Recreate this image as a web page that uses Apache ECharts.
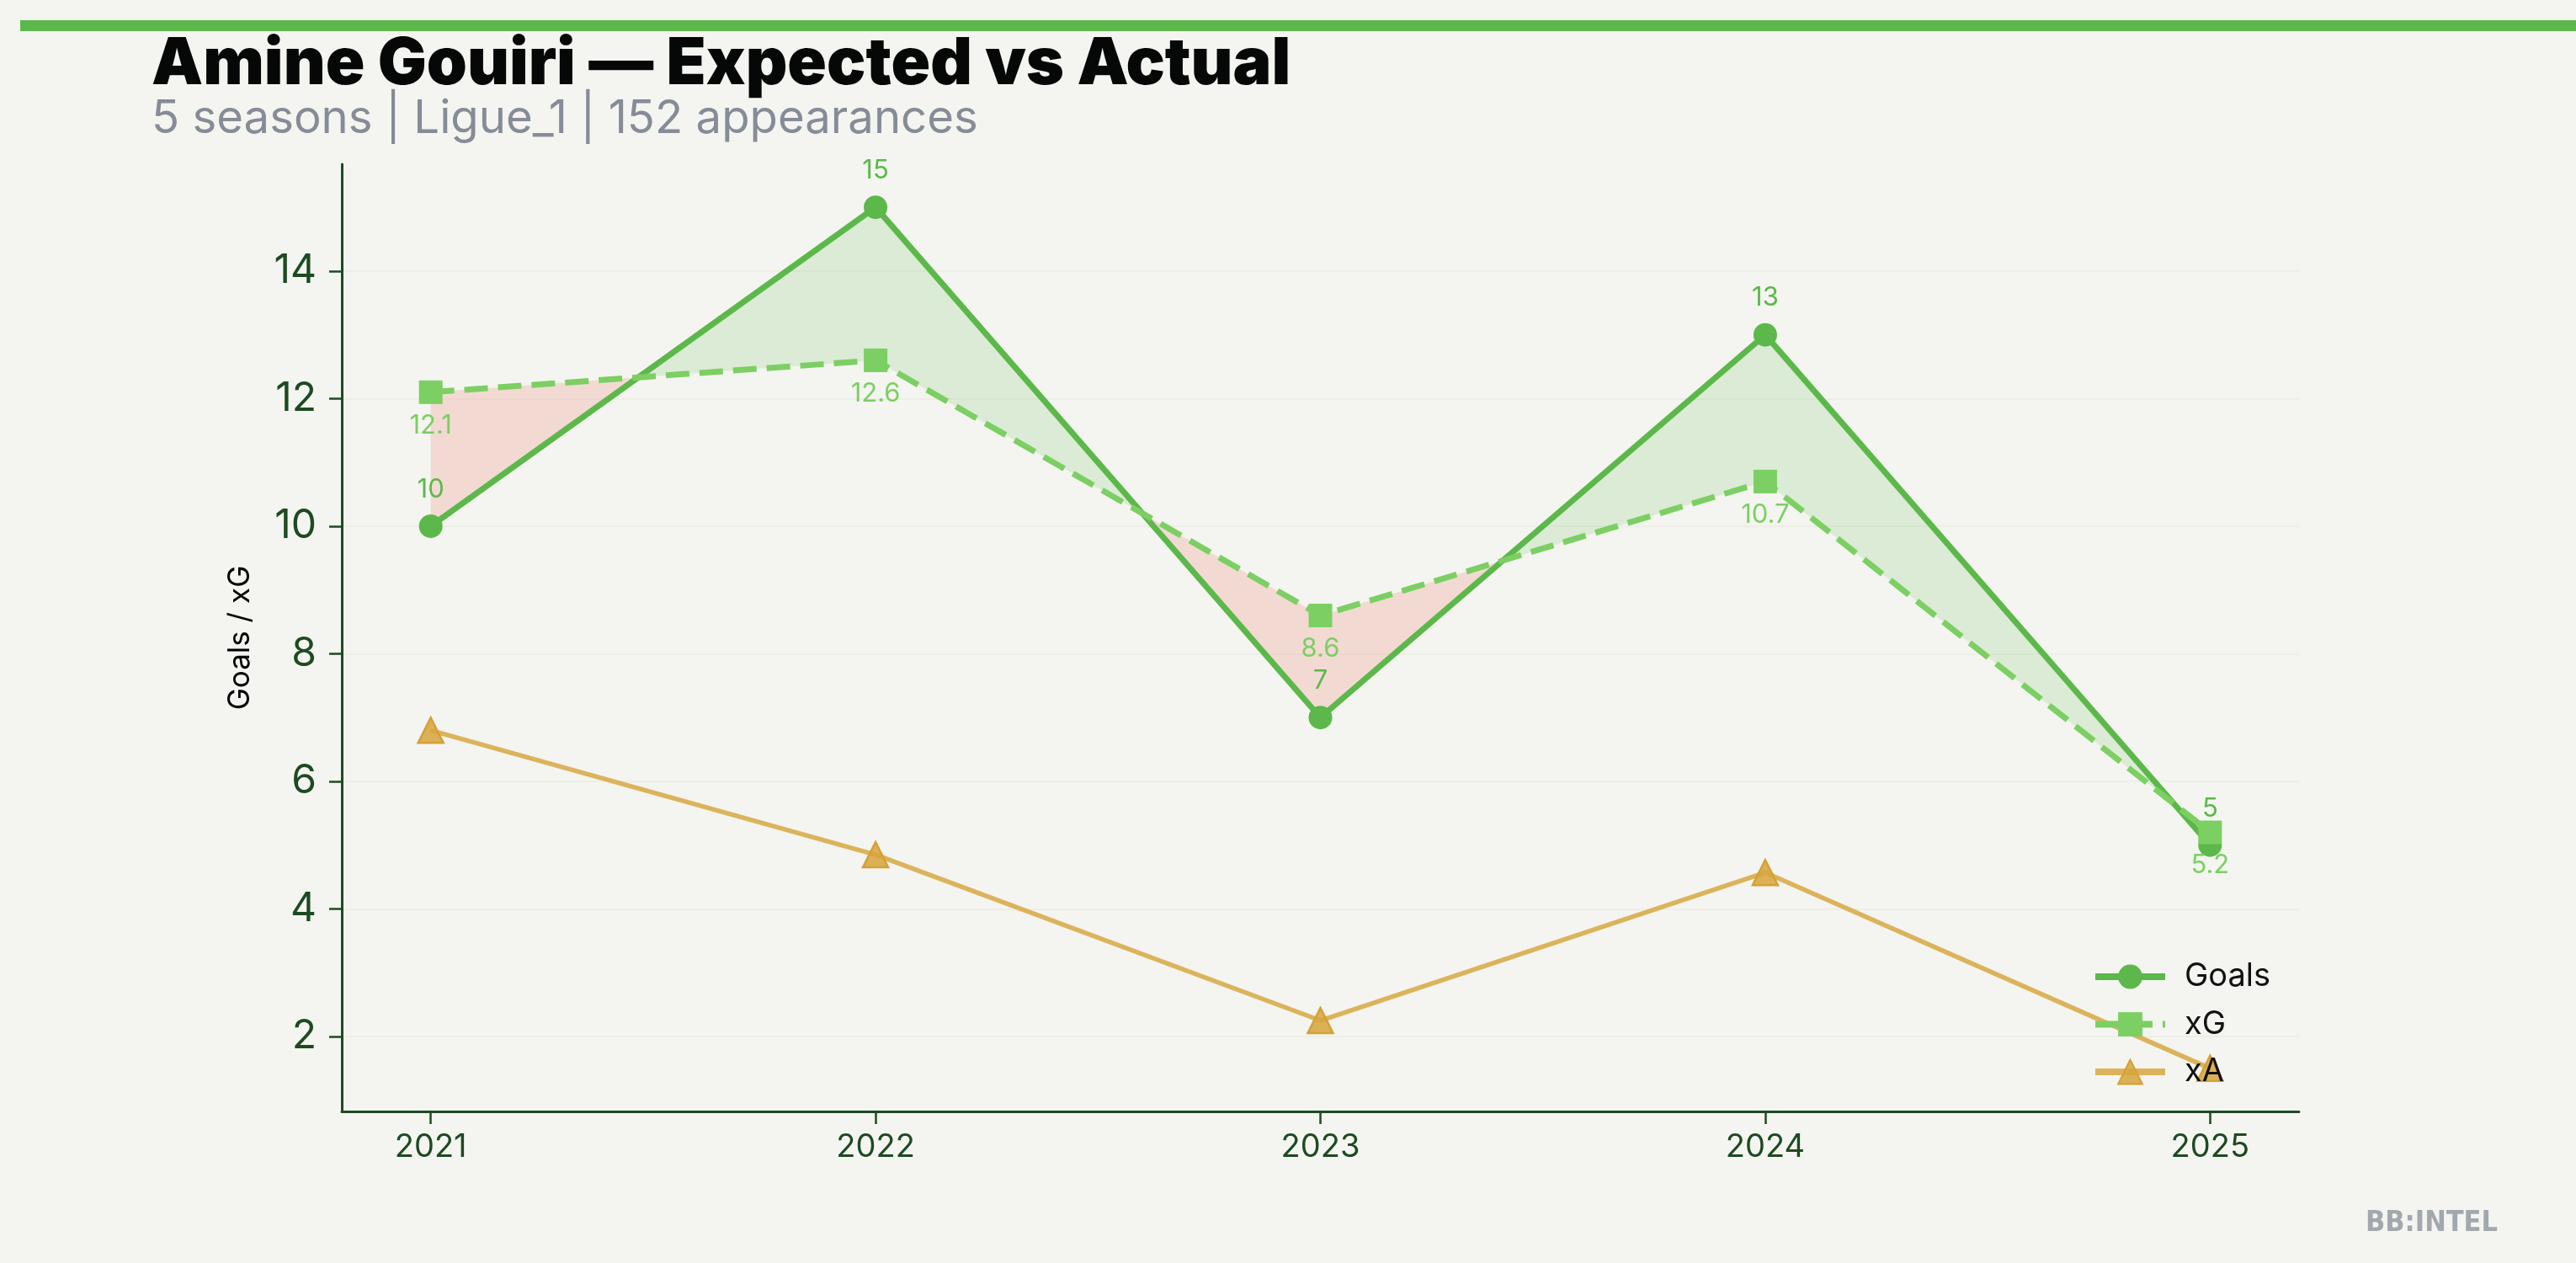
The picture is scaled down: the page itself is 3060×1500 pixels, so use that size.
<!DOCTYPE html>
<html>
<head>
<meta charset="utf-8">
<script src="https://cdn.jsdelivr.net/npm/echarts@6/dist/echarts.min.js"></script>
<style>
  html, body { margin: 0; padding: 0; background: #f4f5f0; }
  #chart { width: 3060px; height: 1500px; }
</style>
</head>
<body>
<div id="chart"></div>
<script>
const seasons = [2021, 2022, 2023, 2024, 2025];
const goals = [10, 15, 7, 13, 5];
const xG = [12.1, 12.6, 8.6, 10.7, 5.2];
const xA = [6.8, 4.85, 2.25, 4.57, 1.5];
const yTicks = [2, 4, 6, 8, 10, 12, 14];
const titleText = 'Amine Gouiri \u2014 Expected vs Actual';
const subtitleText = '5 seasons | Ligue_1 | 152 appearances';
const yAxisName = 'Goals / xG';
const watermark = 'BB:INTEL';

const C_GOALS = '#5cb84a';
const C_XG = '#7ccf63';
const C_XA = '#dcb35c';
const AXIS = '#1d4a22';
const BG = '#f4f5f0';

const chart = echarts.init(document.getElementById('chart'), null, { renderer: 'canvas' });

// Build contiguous regions between Goals and xG (split where the lines cross)
function buildRegions() {
  const nodes = [];
  for (let i = 0; i < seasons.length; i++) {
    nodes.push({ x: seasons[i], g: goals[i], e: xG[i], cross: false });
    if (i < seasons.length - 1) {
      const d0 = goals[i] - xG[i], d1 = goals[i + 1] - xG[i + 1];
      if (d0 * d1 < 0) {
        const t = d0 / (d0 - d1);
        const xc = seasons[i] + t * (seasons[i + 1] - seasons[i]);
        const yc = goals[i] + t * (goals[i + 1] - goals[i]);
        nodes.push({ x: xc, g: yc, e: yc, cross: true });
      }
    }
  }
  const regions = [];
  let cur = [nodes[0]];
  for (let k = 1; k < nodes.length; k++) {
    cur.push(nodes[k]);
    if (nodes[k].cross || k === nodes.length - 1) {
      regions.push(cur);
      cur = [nodes[k]];
    }
  }
  return regions;
}
const regions = buildRegions();

function fillItem(params, api) {
  const green = 'rgba(92,184,74,0.16)';
  const red = 'rgba(232,90,70,0.17)';
  const children = regions.map(reg => {
    let s = 0;
    reg.forEach(n => { s += n.g - n.e; });
    const pts = reg.map(n => api.coord([n.x, n.g]))
      .concat(reg.slice().reverse().map(n => api.coord([n.x, n.e])));
    return { type: 'polygon', shape: { points: pts }, style: { fill: s >= 0 ? green : red } };
  });
  return { type: 'group', children };
}

const option = {
  backgroundColor: BG,
  animation: false,
  grid: { left: 406, right: 329, top: 195, bottom: 180, containLabel: false },
  graphic: [
    { type: 'rect', left: 24, top: 24, shape: { width: 3036, height: 13 }, style: { fill: C_GOALS } },
    { type: 'text', left: 180, top: 38,
      style: { text: titleText, font: '900 77px Inter', fill: '#060807' } },
    { type: 'text', left: 180, top: 114,
      style: { text: subtitleText, font: '400 54.5px Inter', fill: '#868c97' } },
    { type: 'text', right: 93, top: 1436,
      style: { text: watermark, font: 'bold 34px "Liberation Sans Narrow", "DejaVu Sans Condensed", sans-serif', fill: '#a3a7ae' } }
  ],
  legend: {
    z: 20,
    orient: 'vertical',
    left: 2480,
    top: 1136,
    itemWidth: 83,
    itemHeight: 36,
    itemGap: 18.5,
    lineStyle: { width: 8 },
    textStyle: { fontFamily: 'Inter', fontSize: 38, color: '#111', padding: [0, 0, 0, 18] },
    data: ['Goals', 'xG', 'xA']
  },
  xAxis: {
    type: 'value',
    min: 2020.8,
    max: 2025.2,
    axisLine: { show: true, lineStyle: { color: AXIS, width: 3 } },
    axisTick: { show: true, customValues: seasons, length: 15, lineStyle: { color: AXIS, width: 2.5 } },
    axisLabel: { customValues: seasons, fontFamily: 'Inter', fontSize: 38, color: AXIS, margin: 24,
      formatter: v => String(v) },
    splitLine: { show: false }
  },
  yAxis: {
    type: 'value',
    min: 0.825,
    max: 15.675,
    name: yAxisName,
    nameLocation: 'middle',
    nameRotate: 90,
    nameGap: 103,
    nameTextStyle: { fontFamily: 'Inter', fontSize: 35, color: '#000' },
    axisLine: { show: true, lineStyle: { color: AXIS, width: 3 } },
    axisTick: { show: true, customValues: yTicks, length: 15, lineStyle: { color: AXIS, width: 2.5 } },
    axisLabel: { customValues: yTicks, fontFamily: 'Inter', fontSize: 48, color: AXIS, margin: 30 },
    splitLine: { show: true, lineStyle: { color: '#ebece5', width: 1.5 } }
  },
  series: [
    {
      type: 'custom',
      name: 'fill',
      silent: true,
      z: 1,
      renderItem: fillItem,
      data: [[seasons[0], goals[0]]],
      encode: { x: 0, y: 1 }
    },
    {
      name: 'Goals',
      type: 'line',
      z: 3,
      data: seasons.map((s, i) => [s, goals[i]]),
      symbol: 'circle',
      symbolSize: 28,
      lineStyle: { color: C_GOALS, width: 7 },
      itemStyle: { color: C_GOALS },
      label: { show: true, position: 'top', distance: 14, fontFamily: 'Inter', fontSize: 31, color: C_GOALS },
      emphasis: { disabled: true }
    },
    {
      name: 'xG',
      type: 'line',
      z: 4,
      data: seasons.map((s, i) => [s, xG[i]]),
      symbol: 'rect',
      symbolSize: 28,
      lineStyle: { color: C_XG, width: 7, type: [28, 12] },
      itemStyle: { color: C_XG },
      label: { show: true, position: 'bottom', distance: 10, fontFamily: 'Inter', fontSize: 31, color: C_XG },
      emphasis: { disabled: true }
    },
    {
      name: 'xA',
      type: 'line',
      z: 5,
      data: seasons.map((s, i) => [s, xA[i]]),
      symbol: 'triangle',
      symbolSize: 30,
      lineStyle: { color: C_XA, width: 5.5 },
      itemStyle: { color: 'rgba(214,165,60,0.85)', borderColor: '#d6a034', borderWidth: 2.5 },
      label: { show: false },
      emphasis: { disabled: true }
    }
  ]
};
chart.setOption(option);
</script>
</body>
</html>
